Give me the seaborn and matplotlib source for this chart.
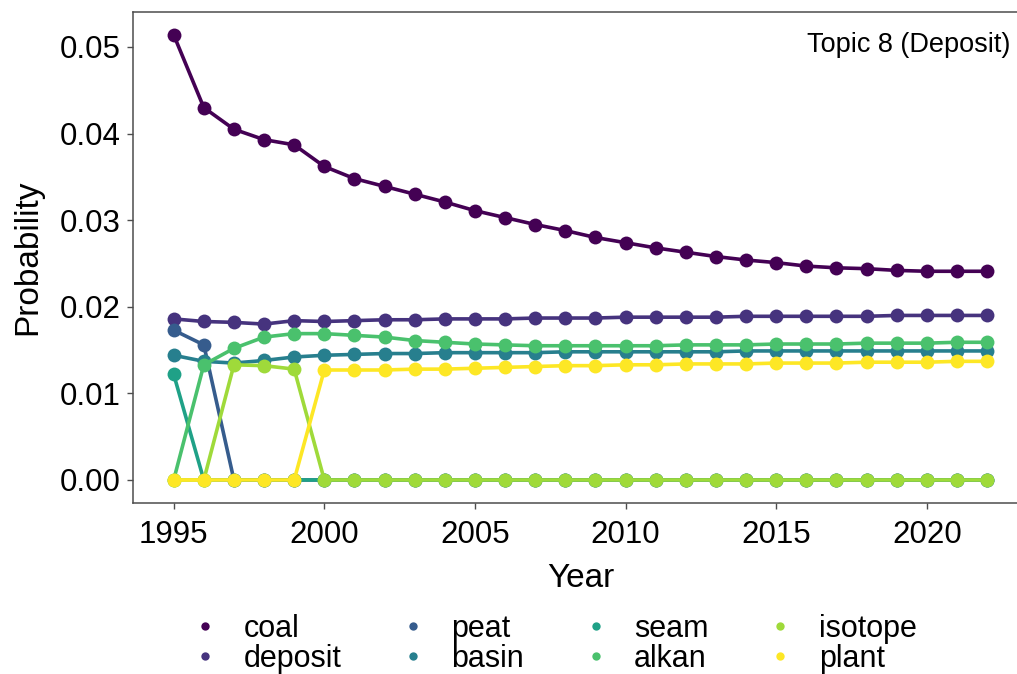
import numpy as np
import pandas as pd
import matplotlib
matplotlib.use("Agg")
import matplotlib.pyplot as plt
from matplotlib.lines import Line2D
import seaborn as sns

# ---- data -------------------------------------------------------------
years = list(range(1995, 2023))

coal = [0.0514, 0.0430, 0.0405, 0.0393, 0.0387, 0.0362, 0.0348,
        0.0339, 0.0330, 0.0321, 0.0311, 0.0303, 0.0295, 0.0288, 0.0280, 0.0274,
        0.0268, 0.0263, 0.0258, 0.0254, 0.0251, 0.0247, 0.0245, 0.0244, 0.0242,
        0.0241, 0.0241, 0.0241]
deposit = [0.0186, 0.0183, 0.0182, 0.0180, 0.0184, 0.0183, 0.0184,
           0.0185, 0.0185, 0.0186, 0.0186, 0.0186, 0.0187, 0.0187, 0.0187, 0.0188,
           0.0188, 0.0188, 0.0188, 0.0189, 0.0189, 0.0189, 0.0189, 0.0189, 0.0190,
           0.0190, 0.0190, 0.0190]
peat = [0.0173, 0.0156] + [0.0] * 26
basin = [0.0144, 0.0137, 0.0135, 0.0138, 0.0142, 0.0144, 0.0145,
         0.0146, 0.0146, 0.0147, 0.0147, 0.0147, 0.0147, 0.0148, 0.0148, 0.0148,
         0.0148, 0.0148, 0.0148, 0.0149, 0.0149, 0.0149, 0.0149, 0.0149, 0.0149,
         0.0149, 0.0149, 0.0149]
seam = [0.0122] + [0.0] * 27
alkan = [0.0, 0.0133, 0.0152, 0.0165, 0.0169, 0.0169, 0.0167,
         0.0165, 0.0161, 0.0159, 0.0157, 0.0156, 0.0155, 0.0155, 0.0155, 0.0155,
         0.0155, 0.0156, 0.0156, 0.0156, 0.0157, 0.0157, 0.0157, 0.0158, 0.0158,
         0.0158, 0.0159, 0.0159]
isotope = [0.0, 0.0, 0.0133, 0.0132, 0.0128] + [0.0] * 23
plant = [0.0, 0.0, 0.0, 0.0, 0.0, 0.0127, 0.0127,
         0.0127, 0.0128, 0.0128, 0.0129, 0.0130, 0.0131, 0.0132, 0.0132, 0.0133,
         0.0133, 0.0134, 0.0134, 0.0134, 0.0135, 0.0135, 0.0135, 0.0136, 0.0136,
         0.0136, 0.0137, 0.0137]

terms = ["coal", "deposit", "peat", "basin", "seam", "alkan", "isotope", "plant"]
series = [coal, deposit, peat, basin, seam, alkan, isotope, plant]
colors = ["#440154", "#46337E", "#365C8D", "#277F8E",
          "#1FA187", "#4AC16D", "#9FDA3A", "#FDE725"]
y_ticks = [0.00, 0.01, 0.02, 0.03, 0.04, 0.05]
x_ticks = [1995, 2000, 2005, 2010, 2015, 2020]
panel_title = "Topic 8 (Deposit)"

df = pd.concat(
    [pd.DataFrame({"Year": years, "Probability": vals, "term": name})
     for name, vals in zip(terms, series)],
    ignore_index=True,
)

# ---- style ------------------------------------------------------------
sns.set_theme(style="ticks")
plt.rcParams["font.family"] = ["Liberation Sans", "DejaVu Sans"]
plt.rcParams["text.color"] = "black"
axis_grey = "#4d4d4d"

fig = plt.figure(figsize=(10.17, 6.74), dpi=100)
ax = fig.add_axes([0.1308, 0.2537, 0.8797, 0.7285])

palette = dict(zip(terms, colors))
sns.lineplot(
    data=df, x="Year", y="Probability", hue="term", hue_order=terms,
    palette=palette, marker="o", markersize=10, markeredgewidth=0,
    linewidth=2.6, legend=False, ax=ax, clip_on=False,
)

ax.set_xlim(1993.65, 2023.35)
ax.set_ylim(-0.00266, 0.05404)
ax.set_xticks(x_ticks)
ax.set_yticks(y_ticks)
ax.set_yticklabels([f"{v:.2f}" for v in y_ticks])

for side in ["left", "right", "top", "bottom"]:
    ax.spines[side].set_color(axis_grey)
    ax.spines[side].set_linewidth(1.1)
    ax.spines[side].set_visible(True)

ax.tick_params(axis="both", which="major", length=4.5, width=1.0,
               color=axis_grey, labelsize=22.5, labelcolor="black")
ax.tick_params(axis="y", pad=4.5)
ax.tick_params(axis="x", pad=8)

ax.set_xlabel("Year", fontsize=24, labelpad=9, color="black")
ax.set_ylabel("Probability", fontsize=24, labelpad=12, color="black")

ax.text(1010 / 1017, 1 - 45 / 674, panel_title, transform=fig.transFigure,
        ha="right", va="center", fontsize=19.5, color="black")

handles = [Line2D([], [], linestyle="none", marker="o", markersize=6,
                  markeredgewidth=0, color=c) for c in colors]
fig.legend(
    handles, terms, ncol=4, frameon=False, fontsize=22, labelcolor="black",
    loc="upper left", bbox_to_anchor=(190 / 1017, 1 - 614 / 674),
    borderpad=0, borderaxespad=0, handlelength=1.0, handletextpad=0.75,
    columnspacing=1.85, labelspacing=0.0,
)

fig.savefig("out.png", dpi=100)
